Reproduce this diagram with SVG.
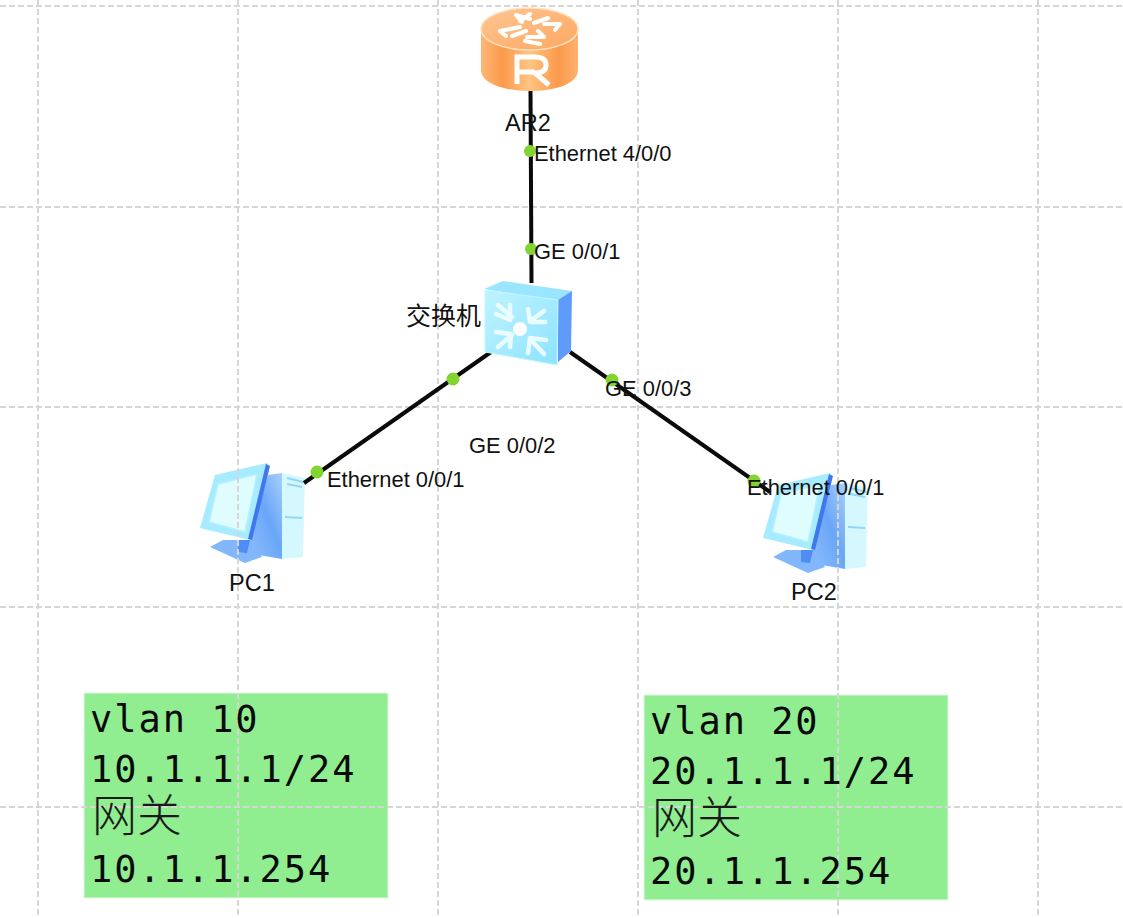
<svg xmlns="http://www.w3.org/2000/svg" width="1123" height="918" viewBox="0 0 1123 918">
<style>
.g{stroke:#d6d6d6;stroke-width:2;stroke-dasharray:6 3;fill:none}
.l{stroke:#0a0a0a;stroke-width:4;fill:none}
.d{fill:#82d42f}
.t{font-family:"Liberation Sans",Arial,sans-serif;font-size:21.900px;fill:#111}
.n{font-family:"Liberation Sans",Arial,sans-serif;font-size:23.500px;fill:#111}
.m{font-family:"DejaVu Sans Mono","Liberation Mono",monospace;font-size:37px;letter-spacing:1.950px;fill:#0a0a0a}
.c{font-family:"Noto Sans CJK SC","Noto Sans",sans-serif;font-size:45px;font-weight:300;fill:#1a1a1a}
.w{fill:none;stroke:#fff;stroke-linecap:round;stroke-linejoin:round}
.a{fill:none;stroke:#eafcff;stroke-width:4.500;stroke-linejoin:round;stroke-linecap:round}
</style>
<defs>
<linearGradient id="rb" x1="0" x2="1" y1="0" y2="0"><stop offset="0" stop-color="#ffb677"/><stop offset=".22" stop-color="#fb9a4c"/><stop offset=".5" stop-color="#ffc482"/><stop offset=".8" stop-color="#fb9a4c"/><stop offset="1" stop-color="#ffb070"/></linearGradient>
<linearGradient id="rt" x1="0" x2="1" y1="0" y2="1"><stop offset="0" stop-color="#ffc592"/><stop offset="1" stop-color="#fda860"/></linearGradient>
<linearGradient id="sf" x1="0" x2="1" y1="0" y2="1"><stop offset="0" stop-color="#bff3ff"/><stop offset="1" stop-color="#8ce3ff"/></linearGradient>
<linearGradient id="ps" x1="1" x2="0" y1="0" y2="1"><stop offset="0" stop-color="#a8cffb"/><stop offset=".45" stop-color="#6aa6f8"/><stop offset="1" stop-color="#8fc0fb"/></linearGradient>
<g id="pc">
<path d="M268 475 L282 473 L282 559 L246 553 Z" fill="url(#ps)"/>
<path d="M282 473 L305 478 L303 557 L282 559 Z" fill="#d5f8ff"/>
<path d="M287 478 L303 482 M287 484 L302 487 M285 517 L302 518" stroke="#92d6f6" stroke-width="2" fill="none"/>
<path d="M215 475 L267 463 L269 467 L250 540 L200 528 Z" fill="#a6ebff"/>
<path d="M218 484 L257 474 L245 532 L209 522 Z" fill="#dffcff" stroke="#b4f0ff" stroke-width="1.500"/>
<path d="M266 464 L270 466 L252 540 L248 539 Z" fill="#3f78ee"/>
<path d="M210 547 L223 540 L250 540 L262 557 L245 563 Z" fill="#82b8fb"/>
<path d="M238 540 L250 540 L247 553 L238 552 Z" fill="#4f8cf4"/>
</g>
</defs>

<rect x="84" y="693" width="304" height="205" fill="#90ee90" stroke="#e4f7e4" stroke-width="1"/>
<rect x="644" y="695" width="304" height="205" fill="#90ee90" stroke="#e4f7e4" stroke-width="1"/>

<g id="PC1"><use href="#pc"/></g>
<g id="PC2"><use href="#pc" x="563" y="10"/></g>

<path class="g" d="M38 0 V918 M238 0 V918 M438 0 V918 M638 0 V918 M838 0 V918 M1038 0 V918 M0 6 H1123 M0 207 H1123 M0 407 H1123 M0 607 H1123 M0 807 H1123"/>

<g id="connectors">
<path class="l" d="M530.500 90 L531.500 283"/>
<path class="l" d="M491 352 L304 483"/>
<path class="l" d="M570 352 L770 492"/>
</g>

<g id="AR2">
<path d="M481 30 V70 C481 83 503 91 530 91 C557 91 578 83 578 70 V30Z" fill="url(#rb)"/>
<ellipse cx="529.500" cy="29" rx="48.500" ry="21" fill="url(#rt)" stroke="#ffe0bf" stroke-width="1.500"/>
<path class="w" stroke-width="4" d="M516 15 L530 19 M516 15 L522 22 M530 14 L520 21 M544 24 L560 24 L555 30 M534 23 L548 18 M500 31 L520 27 M500 31 L506 36 M527 37 L544 37 L538 31 M525 41 L540 44 M512 36 L526 31"/>
<path d="M517 84 V57 H535 Q546 57 546 65 Q546 73 535 73 L549 85 M517 72 H535" fill="none" stroke="#fff" stroke-width="5"/>
</g>

<g id="switch">
<path d="M484 289 L503 281 L572 291 L558 301Z" fill="#9ae5ff"/>
<path d="M558 300 L572 291 L571 351 L558 362Z" fill="#5e9bfb"/>
<path d="M485 290 L558 300 L557 365 L485 352Z" fill="url(#sf)" stroke="#c4f5ff"/>
<g>
<path class="a" d="M498 305 L512 317 M496 314 L510 320 L510 305"/>
<path class="a" d="M544 311 L530 321 M528 309 L530 322 L545 322"/>
<path class="a" d="M498 347 L512 335 M496 332 L511 334 L510 347"/>
<path class="a" d="M544 354 L530 339 M528 353 L530 338 L546 340"/>
</g>
<circle cx="520" cy="329" r="7" fill="#fff"/>
</g>

<g id="dots">
<circle class="d" cx="530" cy="151" r="6"/>
<circle class="d" cx="531" cy="249" r="6"/>
<circle class="d" cx="453" cy="379" r="6.500"/>
<circle class="d" cx="612" cy="380" r="6.500"/>
<circle class="d" cx="317" cy="472" r="6.500"/>
<circle class="d" cx="754" cy="481" r="6.500"/>
</g>

<g id="labels">
<text class="n" x="505" y="131">AR2</text>
<text class="t" x="534" y="161">Ethernet 4/0/0</text>
<text class="t" x="534" y="259">GE 0/0/1</text>
<text x="406" y="325" font-family="'Noto Sans CJK SC',sans-serif" font-size="25" fill="#111">交换机</text>
<text class="t" x="605" y="396">GE 0/0/3</text>
<text class="t" x="469" y="453">GE 0/0/2</text>
<text class="t" x="327" y="487">Ethernet 0/0/1</text>
<text class="t" x="747" y="495">Ethernet 0/0/1</text>
<text class="n" x="229" y="591">PC1</text>
<text class="n" x="791" y="600">PC2</text>
</g>

<g id="vlan10">
<text class="m" x="90" y="732">vlan 10</text>
<text class="m" x="90" y="782">10.1.1.1/24</text>
<text class="c" x="92" y="832">网关</text>
<text class="m" x="90" y="882">10.1.1.254</text>
</g>
<g id="vlan20">
<text class="m" x="650" y="734">vlan 20</text>
<text class="m" x="650" y="784">20.1.1.1/24</text>
<text class="c" x="652" y="834">网关</text>
<text class="m" x="650" y="884">20.1.1.254</text>
</g>
</svg>
